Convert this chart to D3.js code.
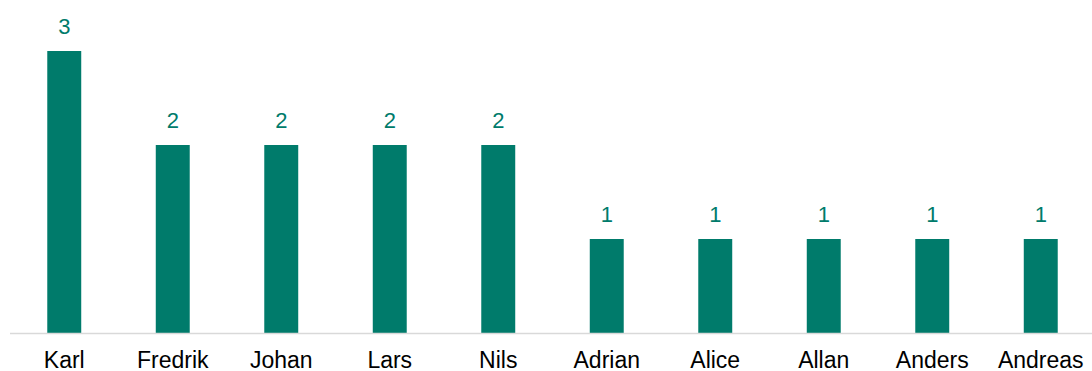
<!DOCTYPE html>
<html>
<head>
<meta charset="utf-8">
<script src="https://cdn.jsdelivr.net/npm/d3@7"></script>
<style>
  body { margin: 0; background: #fff; }
  svg text { font-family: "Liberation Sans", Arial, sans-serif; }
</style>
</head>
<body>
<div id="chart"></div>
<script>
// Data
const names = ["Karl", "Fredrik", "Johan", "Lars", "Nils", "Adrian", "Alice", "Allan", "Anders", "Andreas"];
const counts = [3, 2, 2, 2, 2, 1, 1, 1, 1, 1];

const svgWidth = 1092;
const svgHeight = 371;
const color = "#007b6b";

const svg = d3
  .select("#chart")
  .append("svg")
  .attr("width", svgWidth)
  .attr("height", svgHeight);

// Scales
const xScale = d3
  .scaleBand()
  .domain(names)
  .range([10, 1095])
  .paddingInner(0.687)
  .paddingOuter(0.3435);
const yScale = d3.scaleLinear().domain([0, 3]).range([333, 51]);

// Bars
svg
  .selectAll(".bar")
  .data(names)
  .join("rect")
  .attr("class", "bar")
  .attr("x", (d) => xScale(d))
  .attr("y", (d, i) => yScale(counts[i]))
  .attr("width", xScale.bandwidth())
  .attr("height", (d, i) => yScale(0) - yScale(counts[i]))
  .attr("fill", color);

// Value labels
svg
  .selectAll(".value")
  .data(names)
  .join("text")
  .attr("class", "value")
  .attr("x", (d) => xScale(d) + xScale.bandwidth() / 2)
  .attr("y", (d, i) => yScale(counts[i]) - 17)
  .attr("text-anchor", "middle")
  .attr("font-size", 22)
  .attr("fill", color)
  .text((d, i) => counts[i]);

// Baseline
svg
  .append("line")
  .attr("x1", 10)
  .attr("x2", svgWidth)
  .attr("y1", yScale(0) + 0.5)
  .attr("y2", yScale(0) + 0.5)
  .attr("stroke", "#d9d9d9")
  .attr("stroke-width", 1.5);

// Category labels
svg
  .selectAll(".name")
  .data(names)
  .join("text")
  .attr("class", "name")
  .attr("x", (d) => xScale(d) + xScale.bandwidth() / 2)
  .attr("y", 368)
  .attr("text-anchor", "middle")
  .attr("font-size", 23)
  .attr("fill", "#000")
  .text((d) => d);
</script>
</body>
</html>
